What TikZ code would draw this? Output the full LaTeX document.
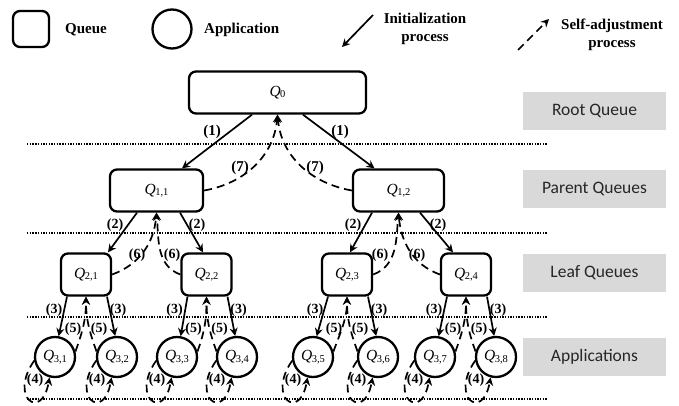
\documentclass[tikz,border=0pt]{standalone}
\usepackage{fontspec}
\setmainfont{Liberation Serif}
\newfontfamily\calibfont{Carlito}
\usetikzlibrary{arrows.meta}
\newcommand\qlab[1]{{\fontsize{15.5}{17}\selectfont\textit{Q}\kern-0.5pt\raisebox{-1.5pt}{\fontsize{10.5}{12}\selectfont #1}}}
\begin{document}
\begin{tikzpicture}[x=1pt,y=1pt,
  queue/.style={draw, line width=2.3pt, rounded corners=7pt, inner sep=0pt, minimum height=42pt},
  app/.style={draw, circle, line width=2.3pt, inner sep=0pt, minimum size=40pt},
  initarr/.style={line width=1.7pt, -{Stealth[length=8pt,width=8pt]}},
  selfarr/.style={line width=1.7pt, dash pattern=on 8pt off 5pt, -{Stealth[length=8pt,width=8pt]}},
  lab/.style={font=\fontsize{14}{16}\selectfont\bfseries, inner sep=0pt},
  biglab/.style={font=\fontsize{15}{17}\selectfont\bfseries, inner sep=0pt},
  level/.style={fill=gray!30, minimum width=143pt, minimum height=38pt, inner sep=0pt, font=\calibfont\fontsize{17.5}{20}\selectfont, text=black!85},
  sep/.style={line width=1.4pt, dash pattern=on 1.4pt off 1.3pt},
  legend/.style={font=\fontsize{15}{18}\selectfont\bfseries, align=center, inner sep=0pt}
]
\useasboundingbox (0,0) rectangle (679,405);

% legend
\node[queue, minimum width=36pt, minimum height=36pt] (lq) at (31,376) {};
\node[legend, anchor=west] (lqt) at (65,375) {Queue};
\node[app, minimum size=39pt] (la) at (172,376) {};
\node[legend, anchor=west] (lat) at (204,375) {Application};
\coordinate (ia1) at (373,390); \coordinate (ia2) at (342,358);
\draw[initarr] (ia1) -- (ia2);
\node[legend] (it) at (425,376) {Initialization\\process};
\coordinate (sa1) at (518,355); \coordinate (sa2) at (549,386);
\draw[selfarr] (sa1) -- (sa2);
\node[legend] (st) at (612,370) {Self-adjustment\\process};

% level boxes
\node[level] (rq) at (594.5,294) {Root Queue};
\node[level] (pq) at (594.5,216) {Parent Queues};
\node[level] (lfq) at (594.5,132.5) {Leaf Queues};
\node[level] (apq) at (594.5,48.5) {Applications};

% separators
\foreach \yy/\nm in {261/a,172/b,88/c,6/d} {
  \coordinate (s\nm1) at (27,\yy); \coordinate (s\nm2) at (548,\yy);
  \draw[sep] (s\nm1) -- (s\nm2);
}

% queues
\node[queue, minimum width=177pt] (q0) at (277.5,312.5) {\qlab{0}};
\node[queue, minimum width=93pt] (q11) at (156.5,214.5) {\qlab{1,1}};
\node[queue, minimum width=91pt] (q12) at (398.5,214.5) {\qlab{1,2}};
\node[queue, minimum width=50pt] (q21) at (86,130.5) {\qlab{2,1}};
\node[queue, minimum width=50pt] (q22) at (206.5,130.5) {\qlab{2,2}};
\node[queue, minimum width=50pt] (q23) at (347,130.5) {\qlab{2,3}};
\node[queue, minimum width=50pt] (q24) at (466,130.5) {\qlab{2,4}};

% applications
\foreach \c/\x/\t in {q31/55/{3,1}, q32/117/{3,2}, q33/177/{3,3}, q34/237/{3,4}, q35/313/{3,5}, q36/378/{3,6}, q37/435/{3,7}, q38/496/{3,8}} {
  \node[app] (\c) at (\x,48) {\qlab{\t}};
}

% level 0 -> 1
\draw[initarr] ([xshift=-25.5pt]q0.south) -- ([xshift=25.5pt]q11.north);
\draw[initarr] ([xshift=25.5pt]q0.south) -- ([xshift=-24pt]q12.north);
\node[biglab] (l1a) at (212,273) {(1)};
\node[biglab] (l1b) at (340,273) {(1)};
\draw[selfarr] (q11.east) to[out=10,in=-95] (q0.south);
\draw[selfarr] (q12.west) to[out=170,in=-85] (q0.south);
\node[biglab] (l7a) at (240,237) {(7)};
\node[biglab] (l7b) at (315,237) {(7)};

% level 1 -> 2
\draw[initarr] ([xshift=-19.5pt]q11.south) -- ([xshift=22pt]q21.north);
\draw[initarr] ([xshift=23.5pt]q11.south) -- ([xshift=-3.5pt]q22.north);
\draw[initarr] ([xshift=-26.5pt]q12.south) -- ([xshift=3pt]q23.north);
\draw[initarr] ([xshift=21.5pt]q12.south) -- ([xshift=-13pt]q24.north);
\node[lab] (l2a) at (115,180) {(2)};
\node[lab] (l2b) at (197,180) {(2)};
\node[lab] (l2c) at (353,180) {(2)};
\node[lab] (l2d) at (438,180) {(2)};
\draw[selfarr] (q21.east) to[out=20,in=-95] (q11.south);
\draw[selfarr] (q22.west) to[out=160,in=-85] (q11.south);
\draw[selfarr] (q23.east) to[out=20,in=-95] (q12.south);
\draw[selfarr] (q24.west) to[out=160,in=-85] (q12.south);
\node[lab] (l6a) at (137,150) {(6)};
\node[lab] (l6b) at (172,150) {(6)};
\node[lab] (l6c) at (380,150) {(6)};
\node[lab] (l6d) at (417,150) {(6)};

% level 2 -> 3
\foreach \p/\l/\r/\x in {q21/q31/q32/86, q22/q33/q34/206.5, q23/q35/q36/347, q24/q37/q38/466} {
  \draw[initarr] ([xshift=-19pt]\p.south) -- (\l.80);
  \draw[initarr] ([xshift=21pt]\p.south) -- (\r.95);
  \draw[selfarr] (\l.15) to[out=70,in=-90] (\p.south);
  \draw[selfarr] (\r.165) to[out=110,in=-90] (\p.south);
  \node[lab] (\p-3l) at (\x-32,95) {(3)};
  \node[lab] (\p-3r) at (\x+32,95) {(3)};
  \node[lab] (\p-5l) at (\x-13,76) {(5)};
  \node[lab] (\p-5r) at (\x+13,76) {(5)};
}

% self loops (4)
\foreach \c/\x in {q31/55, q32/117, q33/177, q34/237, q35/313, q36/378, q37/435, q38/496} {
  \draw[selfarr] (\c.190) .. controls +(235:45) and +(260:45) .. (\c.-105);
  \node[lab] (\c-4) at (\x-20,25) {(4)};
}
\end{tikzpicture}
\end{document}
